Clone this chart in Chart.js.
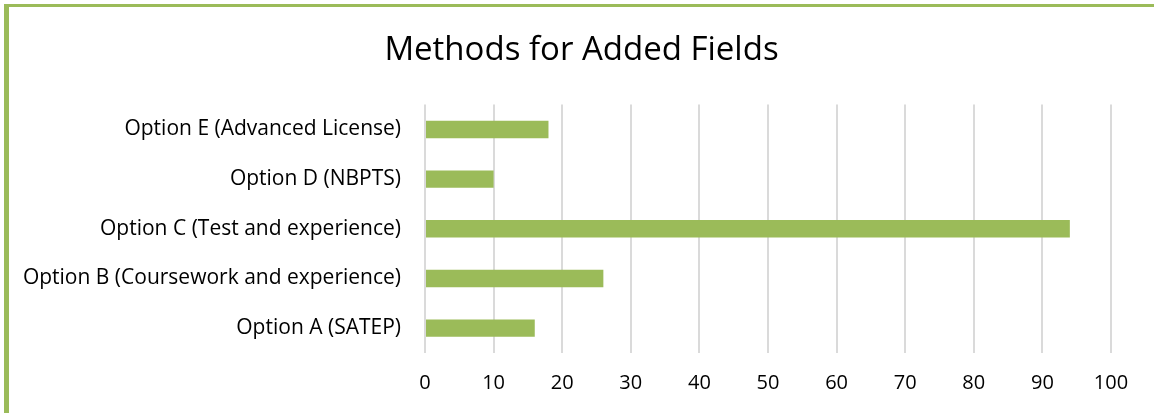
<!DOCTYPE html>
<html>
<head>
<meta charset="utf-8">
<script src="https://cdn.jsdelivr.net/npm/chart.js@4.4.0/dist/chart.umd.min.js"></script>
<style>
  body { margin: 0; background: #fff; }
  #frame {
    position: absolute; left: 4px; top: 4px;
    width: 1145px; height: 406px;
    border-top: 3px solid #9BBB59;
    border-left: 5px solid #9BBB59;
  }
</style>
</head>
<body>
<div id="frame"><canvas id="chart" width="1145" height="406"></canvas></div>
<script>
const categories = [
  "Option A (SATEP)",
  "Option B (Coursework and experience)",
  "Option C (Test and experience)",
  "Option D (NBPTS)",
  "Option E (Advanced License)"
];
const counts = [16, 26, 94, 10, 18];
const xTicks = [0, 10, 20, 30, 40, 50, 60, 70, 80, 90, 100];

const font = "'Open Sans', sans-serif";

const ctx = document.getElementById('chart').getContext('2d');
new Chart(ctx, {
  type: 'bar',
  data: {
    labels: categories,
    datasets: [{
      label: 'Count',
      data: counts,
      backgroundColor: '#9BBB59',
      borderWidth: 0,
      categoryPercentage: 1,
      barPercentage: 0.35,
    }],
  },
  options: {
    indexAxis: 'y',
    responsive: false,
    animation: false,
    layout: { padding: { top: 24, right: 0, bottom: 0, left: 0 } },
    plugins: {
      legend: { display: false },
      tooltip: { enabled: false },
      title: {
        display: true,
        text: 'Methods for Added Fields',
        color: '#000',
        font: { family: font, size: 33, weight: 'normal' },
        padding: { top: 0, bottom: 34 },
      },
    },
    scales: {
      x: {
        min: 0,
        max: 100,
        afterBuildTicks: (scale) => { scale.ticks = xTicks.map(v => ({ value: v })); },
        grid: { color: '#DADADA', lineWidth: 2, drawTicks: false },
        border: { display: false },
        ticks: { color: '#000', padding: 18, font: { family: font, size: 20 } },
      },
      y: {
        reverse: true,
        grid: { display: false, drawTicks: false },
        border: { display: false },
        ticks: { color: '#000', padding: 24, font: { family: font, size: 21 } },
        afterFit: (scale) => { scale.width = 416; },
      },
      // empty right-hand axis, only reserves the margin right of the plot
      spacer: {
        axis: 'y',
        position: 'right',
        grid: { display: false, drawTicks: false },
        border: { display: false },
        ticks: { display: false },
        afterFit: (scale) => { scale.width = 43; },
      },
    },
  },
});
</script>
</body>
</html>
